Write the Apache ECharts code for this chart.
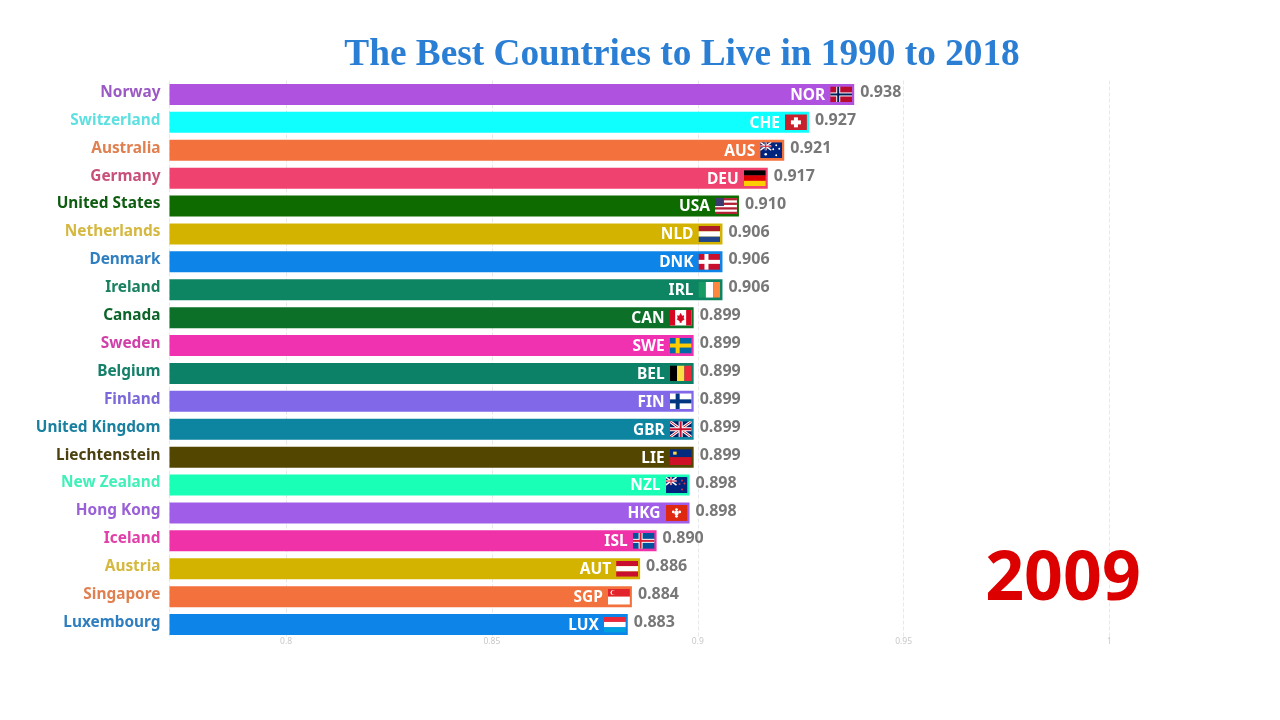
<!DOCTYPE html>
<html>
<head>
<meta charset="utf-8">
<style>
    html, body { margin: 0; padding: 0; background: #fff; }
    #chart { width: 1280px; height: 720px; }
</style>
<script src="https://cdn.jsdelivr.net/npm/echarts@6/dist/echarts.min.js"></script>
</head>
<body>
<div id="chart"></div>
<script>
    var countries = ['Norway', 'Switzerland', 'Australia', 'Germany', 'United States', 'Netherlands', 'Denmark', 'Ireland', 'Canada', 'Sweden', 'Belgium', 'Finland', 'United Kingdom', 'Liechtenstein', 'New Zealand', 'Hong Kong', 'Iceland', 'Austria', 'Singapore', 'Luxembourg'];
    var codes = ['NOR', 'CHE', 'AUS', 'DEU', 'USA', 'NLD', 'DNK', 'IRL', 'CAN', 'SWE', 'BEL', 'FIN', 'GBR', 'LIE', 'NZL', 'HKG', 'ISL', 'AUT', 'SGP', 'LUX'];
    var values = [0.938, 0.927, 0.921, 0.917, 0.910, 0.906, 0.906, 0.906, 0.899, 0.899, 0.899, 0.899, 0.899, 0.899, 0.898, 0.898, 0.890, 0.886, 0.884, 0.883];
    var barColors = ['#b052e0', '#0fffff', '#f2713c', '#f0426e', '#0d6b00', '#d4b300', '#0d84e8', '#0d8462', '#0d7028', '#f032b0', '#0d8068', '#8068e8', '#0d84a0', '#524600', '#19ffb5', '#a05ee8', '#f032a8', '#d4b300', '#f2713c', '#0d84e8'];
    var labelColors = ['#9b59c4', '#5fe0e0', '#e08050', '#c8507a', '#0d5c10', '#d4b840', '#2f7fc0', '#1a8060', '#0d6428', '#d040a8', '#15806a', '#7a68d8', '#1a80a0', '#4a4010', '#40f0b8', '#9a60d8', '#e040a8', '#d4b840', '#e08050', '#2f7fc0'];
    var xTicks = [0.8, 0.85, 0.9, 0.95, 1];
    var year = '2009';
    var title = 'The Best Countries to Live in 1990 to 2018';

    // small flags, 22x16
    function r(x, y, w, h, c) { return '<rect x="' + x + '" y="' + y + '" width="' + w + '" height="' + h + '" fill="' + c + '"/>'; }
    function cross(bg, c1, c2) {
        var s = r(0, 0, 22, 16, bg) + r(6, 0, 4, 16, c1) + r(0, 6, 22, 4, c1);
        if (c2) s += r(7, 0, 2, 16, c2) + r(0, 7, 22, 2, c2);
        return s;
    }
    var ukJack = '<path d="M0 0L22 16M22 0L0 16" stroke="#fff" stroke-width="3"/><path d="M0 0L22 16M22 0L0 16" stroke="#c8102e" stroke-width="1"/>' + r(9, 0, 4, 16, '#fff') + r(0, 6, 22, 4, '#fff') + r(10, 0, 2, 16, '#c8102e') + r(0, 7, 22, 2, '#c8102e');
    var flags = {
        NOR: cross('#ba0c2f', '#fff', '#00205b'),
        CHE: r(0, 0, 22, 16, '#c8202c') + r(9, 3, 4, 10, '#fff') + r(6, 6, 10, 4, '#fff'),
        AUS: r(0, 0, 22, 16, '#00247d') + '<g transform="scale(0.5)"><path d="M0 0L22 16M22 0L0 16" stroke="#fff" stroke-width="3"/>' + r(9, 0, 4, 16, '#fff') + r(0, 6, 22, 4, '#fff') + r(10, 0, 2, 16, '#c8102e') + r(0, 7, 22, 2, '#c8102e') + '</g><circle cx="5.5" cy="12" r="1.3" fill="#fff"/><circle cx="16" cy="3" r="0.9" fill="#fff"/><circle cx="16" cy="13" r="0.9" fill="#fff"/><circle cx="13" cy="7" r="0.9" fill="#fff"/><circle cx="19" cy="6.5" r="0.9" fill="#fff"/>',
        DEU: r(0, 0, 22, 5.4, '#000') + r(0, 5.4, 22, 5.3, '#d00') + r(0, 10.7, 22, 5.3, '#ffce00'),
        USA: r(0, 0, 22, 16, '#fff') + r(0, 0, 22, 2.3, '#b22234') + r(0, 4.6, 22, 2.3, '#b22234') + r(0, 9.2, 22, 2.3, '#b22234') + r(0, 13.7, 22, 2.3, '#b22234') + r(0, 0, 9, 8, '#3c3b6e'),
        NLD: r(0, 0, 22, 5.4, '#ae1c28') + r(0, 5.4, 22, 5.3, '#fff') + r(0, 10.7, 22, 5.3, '#21468b'),
        DNK: cross('#c8102e', '#fff'),
        IRL: r(0, 0, 7.4, 16, '#169b62') + r(7.4, 0, 7.3, 16, '#fff') + r(14.7, 0, 7.3, 16, '#ff883e'),
        CAN: r(0, 0, 22, 16, '#fff') + r(0, 0, 5.5, 16, '#d80621') + r(16.5, 0, 5.5, 16, '#d80621') + '<path d="M11 3L12.5 6L14.5 5.5L14 8.5L15 9.5L12 11.5V13H10V11.5L7 9.5L8 8.5L7.5 5.5L9.5 6Z" fill="#d80621"/>',
        SWE: cross('#006aa7', '#fecc00'),
        BEL: r(0, 0, 7.4, 16, '#000') + r(7.4, 0, 7.3, 16, '#fae042') + r(14.7, 0, 7.3, 16, '#ed2939'),
        FIN: cross('#fff', '#003580'),
        GBR: r(0, 0, 22, 16, '#012169') + ukJack,
        LIE: r(0, 0, 22, 8, '#002b7f') + r(0, 8, 22, 8, '#ce1126') + r(3.5, 2.5, 3.5, 3, '#ffd83d'),
        NZL: r(0, 0, 22, 16, '#00247d') + '<g transform="scale(0.5)"><path d="M0 0L22 16M22 0L0 16" stroke="#fff" stroke-width="3"/>' + r(9, 0, 4, 16, '#fff') + r(0, 6, 22, 4, '#fff') + r(10, 0, 2, 16, '#c8102e') + r(0, 7, 22, 2, '#c8102e') + '</g><circle cx="16.5" cy="3.5" r="1" fill="#e03040"/><circle cx="16.5" cy="12.5" r="1" fill="#e03040"/><circle cx="14" cy="7" r="1" fill="#e03040"/><circle cx="19" cy="6.5" r="1" fill="#e03040"/>',
        HKG: r(0, 0, 22, 16, '#de2910') + '<circle cx="11" cy="8" r="2.2" fill="#fff"/><circle cx="11" cy="4.6" r="1.4" fill="#fff"/><circle cx="11" cy="11.4" r="1.4" fill="#fff"/><circle cx="7.8" cy="7" r="1.4" fill="#fff"/><circle cx="14.2" cy="7" r="1.4" fill="#fff"/>',
        ISL: cross('#02529c', '#fff', '#dc1e35'),
        AUT: r(0, 0, 22, 5.4, '#c8102e') + r(0, 5.4, 22, 5.3, '#fff') + r(0, 10.7, 22, 5.3, '#c8102e'),
        SGP: r(0, 0, 22, 8, '#e2232a') + r(0, 8, 22, 8, '#fff') + '<circle cx="5" cy="4" r="2.4" fill="#fff"/><circle cx="6" cy="4" r="2.2" fill="#e2232a"/>',
        LUX: r(0, 0, 22, 5.4, '#ed2939') + r(0, 5.4, 22, 5.3, '#fff') + r(0, 10.7, 22, 5.3, '#00a1de')
    };
    function flagUrl(code) {
        var svg = '<svg xmlns="http://www.w3.org/2000/svg" width="88" height="64" viewBox="0 0 22 16">' + flags[code] + '</svg>';
        return 'image://data:image/svg+xml;charset=utf-8,' + encodeURIComponent(svg);
    }

    var chart = echarts.init(document.getElementById('chart'));
    var font = '"Noto Sans", sans-serif';

    var options = {
        backgroundColor: '#fff',
        animation: false,
        title: [{
            text: title,
            left: 677,
            top: 32,
            textAlign: 'center',
            textStyle: { fontFamily: '"Liberation Serif", serif', fontWeight: 'bold', fontSize: 37.3, color: '#2a7fd4' }
        }, {
            text: year,
            left: 1058,
            top: 542,
            textAlign: 'center',
            textStyle: { fontFamily: font, fontWeight: 'bold', fontSize: 68, color: '#dd0000' }
        }],
        grid: { left: 169.5, right: 170.5, top: 80.5, height: 558 },
        xAxis: {
            type: 'value',
            min: 0.7717,
            max: 1,
            axisLine: { show: false },
            axisTick: { show: false },
            axisLabel: {
                margin: -1,
                fontSize: 8.5,
                color: '#c8c8c8',
                fontFamily: font,
                customValues: xTicks,
                formatter: function (v) { return String(v); }
            },
            splitLine: { show: true, lineStyle: { color: '#e8e8e8', type: 'dashed', width: 1 } }
        },
        yAxis: {
            type: 'category',
            inverse: true,
            data: countries,
            axisLine: { show: false },
            axisTick: { show: false },
            axisLabel: {
                margin: 9,
                fontSize: 15.4,
                fontWeight: 'bold',
                fontFamily: font,
                verticalAlign: 'bottom',
                lineHeight: 4,
                color: function (v, i) { return labelColors[i]; }
            }
        },
        series: [{
            type: 'bar',
            barWidth: 21,
            data: values.map(function (v, i) {
                return { value: v, itemStyle: { color: barColors[i] } };
            }),
            label: {
                show: true,
                position: 'right',
                distance: 6,
                offset: [0, -2],
                fontSize: 16,
                fontWeight: 'bold',
                fontFamily: font,
                color: '#777',
                formatter: function (p) { return p.value.toFixed(3); }
            }
        }, {
            type: 'bar',
            barWidth: 21,
            barGap: '-100%',
            silent: true,
            itemStyle: { color: 'transparent' },
            data: values,
            label: {
                show: true,
                position: 'insideRight',
                distance: 29,
                offset: [0, 1],
                fontSize: 15.5,
                fontWeight: 'bold',
                fontFamily: font,
                color: '#fff',
                formatter: function (p) { return codes[p.dataIndex]; }
            }
        }, {
            type: 'scatter',
            silent: true,
            z: 5,
            itemStyle: { opacity: 1 },
            data: values.map(function (v, i) {
                return { value: [v, countries[i]], symbol: flagUrl(codes[i]) };
            }),
            symbolSize: [22, 16],
            symbolOffset: [-13, 0]
        }]
    };
    chart.setOption(options);
</script>
</body>
</html>
